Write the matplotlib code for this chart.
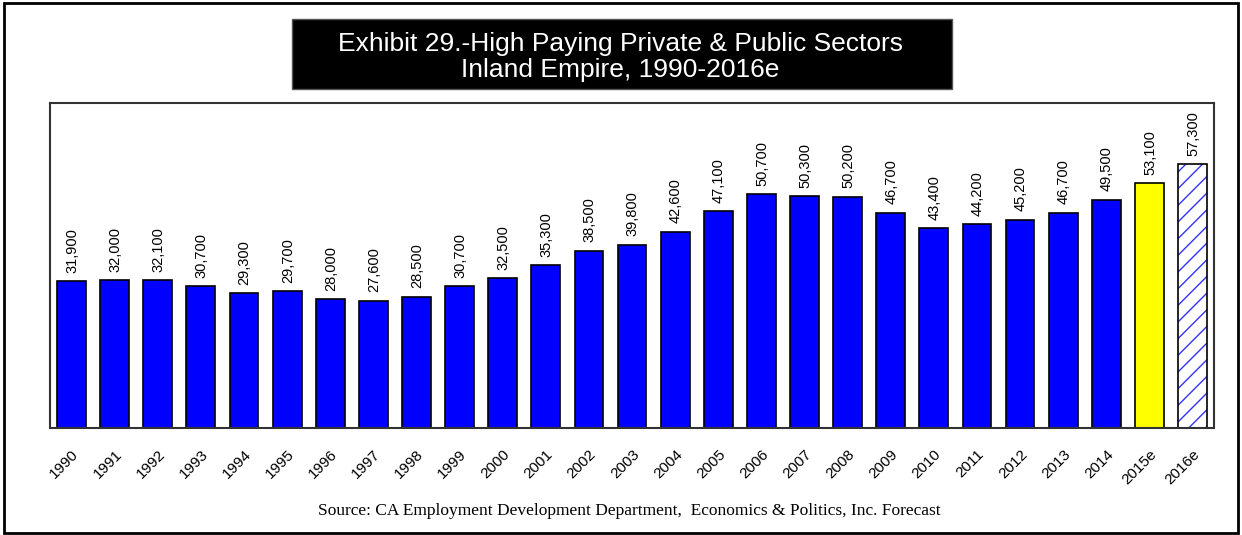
import numpy as np
import matplotlib.pyplot as plt
from matplotlib.patches import Rectangle

years = ['1990', '1991', '1992', '1993', '1994', '1995', '1996', '1997', '1998',
         '1999', '2000', '2001', '2002', '2003', '2004', '2005', '2006', '2007',
         '2008', '2009', '2010', '2011', '2012', '2013', '2014', '2015e', '2016e']
jobs = [31900, 32000, 32100, 30700, 29300, 29700, 28000, 27600, 28500,
        30700, 32500, 35300, 38500, 39800, 42600, 47100, 50700, 50300,
        50200, 46700, 43400, 44200, 45200, 46700, 49500, 53100, 57300]

plt.rcParams['font.family'] = ['Liberation Sans', 'DejaVu Sans']
plt.rcParams['hatch.linewidth'] = 1.0

fig = plt.figure(figsize=(12.42, 5.35), dpi=100)
fig.patch.set_facecolor('white')

# outer frame
fig.patches.append(Rectangle((0.003, 0.003), 0.994, 0.992, transform=fig.transFigure,
                             fill=False, edgecolor='black', linewidth=2))

ax = fig.add_axes([0.0403, 0.2, 0.9372, 0.6075])
x = np.arange(len(years))
colors = ['#0000ff'] * 25 + ['#ffff00']
ax.bar(x[:26], jobs[:26], width=0.67, color=colors, edgecolor='black', linewidth=1.2)
# forecast bar: blue hatching on white
ax.bar(x[26], jobs[26], width=0.67, color='white', edgecolor='#3333ff',
       hatch='//', linewidth=0)
ax.bar(x[26], jobs[26], width=0.67, fill=False, edgecolor='black', linewidth=1.2)

for xi, v in zip(x, jobs):
    ax.annotate(f'{v:,}', (xi, v), xytext=(0.5, 6), textcoords='offset points',
                rotation=90, ha='center', va='bottom', fontsize=10.5)

ax.set_xlim(-0.5, len(years) - 0.5)
ax.set_ylim(0, 70500)
ax.set_yticks([])
ax.set_xticks(x)
ax.set_xticklabels(years, rotation=45, ha='right', va='top', fontsize=11,
                   rotation_mode='anchor')
ax.tick_params(axis='x', length=0, pad=14)
for s in ax.spines.values():
    s.set_linewidth(1.5)
    s.set_color('#333333')

# title block
fig.patches.append(Rectangle((0.2351, 0.8336), 0.5314, 0.1309, transform=fig.transFigure,
                             facecolor='black', edgecolor='#555555', linewidth=1))
fig.text(0.4997, 0.918, 'Exhibit 29.-High Paying Private & Public Sectors',
         ha='center', va='center', color='white', fontsize=19)
fig.text(0.4997, 0.869, 'Inland Empire, 1990-2016e',
         ha='center', va='center', color='white', fontsize=19)

fig.text(0.507, 0.044, 'Source: CA Employment Development Department,  Economics & Politics, Inc. Forecast',
         ha='center', va='center', fontsize=12.5, family=['Liberation Serif', 'DejaVu Serif'])

fig.savefig('out.png', dpi=100)
